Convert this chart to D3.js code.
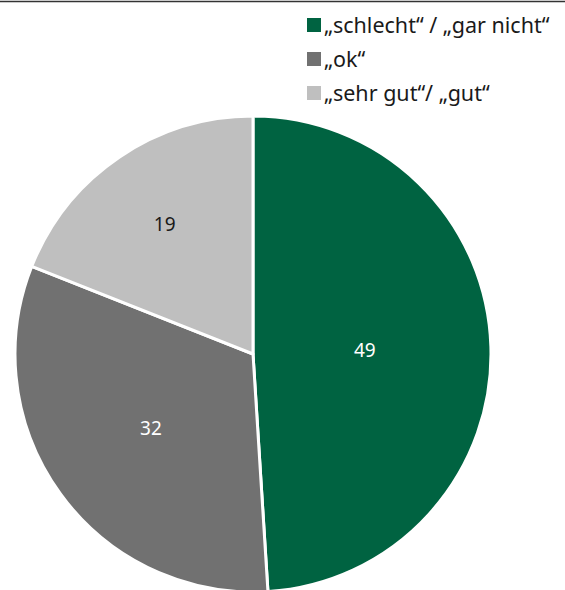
<!DOCTYPE html>
<html>
<head>
<meta charset="utf-8">
<script src="https://cdn.jsdelivr.net/npm/d3@7"></script>
<style>
  body { margin: 0; background: #fff; }
  svg { font-family: "Source Sans Pro", "Noto Sans", sans-serif; }
</style>
</head>
<body>
<svg id="pie"></svg>
<script>
// Data
const categories = ["„schlecht“ / „gar nicht“", "„ok“", "„sehr gut“/ „gut“"];
const values = [49, 32, 19];
const colors = ["#006341", "#717171", "#bfbfbf"];
const labelColors = ["#ffffff", "#ffffff", "#1a1a1a"];
// label distance from centre, as a share of the radius
const labelPos = [0.47, 0.53, 0.66];

const width = 565, height = 590;
const cx = 253, cy = 354, radius = 238;

const svg = d3.select("#pie")
    .attr("width", width)
    .attr("height", height);

// top rule
svg.append("line")
    .attr("x1", 0).attr("x2", width)
    .attr("y1", 1.5).attr("y2", 1.5)
    .attr("stroke", "#333")
    .attr("stroke-width", 1.5);

const pieData = d3.pie().sort(null)(values);
const arc = d3.arc().innerRadius(0).outerRadius(radius);

const g = svg.append("g").attr("transform", `translate(${cx},${cy})`);

g.selectAll("path")
    .data(pieData)
    .join("path")
    .attr("d", arc)
    .attr("fill", (d, i) => colors[i])
    .attr("stroke", "#fff")
    .attr("stroke-width", 3)
    .attr("stroke-linejoin", "round");

g.selectAll("text.val")
    .data(pieData)
    .join("text")
    .attr("class", "val")
    .attr("transform", (d, i) => {
        const r = radius * labelPos[i];
        return `translate(${d3.arc().innerRadius(r).outerRadius(r).centroid(d)})`;
    })
    .attr("text-anchor", "middle")
    .attr("dy", "0.35em")
    .attr("font-size", 19)
    .attr("fill", (d, i) => labelColors[i])
    .text(d => d.data);

// Legend
const legend = svg.append("g").attr("transform", "translate(307,18)");
const rows = legend.selectAll("g")
    .data(categories)
    .join("g")
    .attr("transform", (d, i) => `translate(0,${i * 34})`);

rows.append("rect")
    .attr("width", 14).attr("height", 14)
    .attr("fill", (d, i) => colors[i]);

rows.append("text")
    .attr("x", 17)
    .attr("y", 7)
    .attr("dy", "0.35em")
    .attr("font-size", 21.5)
    .attr("fill", "#1a1a1a")
    .text(d => d);
</script>
</body>
</html>
